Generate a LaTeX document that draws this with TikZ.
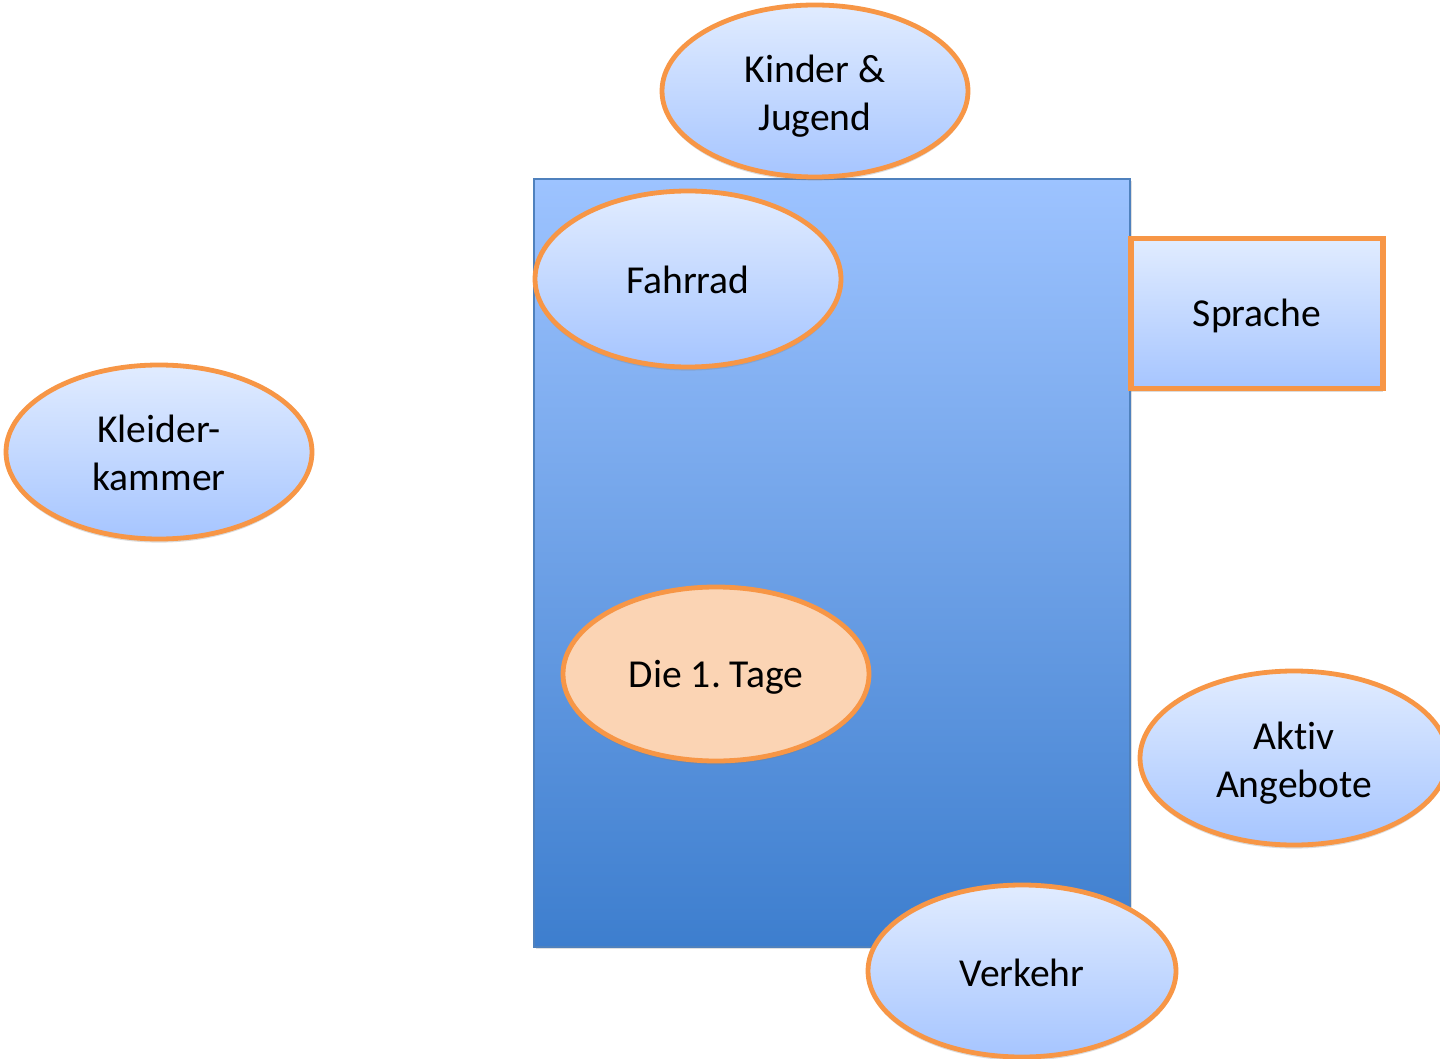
\documentclass[tikz,border=0pt]{standalone}
\usepackage{fontspec}
\setmainfont{Carlito}[Ligatures=NoCommon]
\frenchspacing
\usetikzlibrary{shapes.geometric,shadows}
\definecolor{orangeline}{HTML}{F79646}
\definecolor{elltop}{HTML}{E1ECFF}
\definecolor{ellbot}{HTML}{A6C5FF}
\definecolor{recttop}{HTML}{9DC3FF}
\definecolor{rectbot}{HTML}{3D7ECE}
\definecolor{rectline}{HTML}{4F81BD}
\definecolor{peach}{HTML}{FBD4B4}
\tikzset{
  lbl/.style={font=\fontsize{19.8}{24}\selectfont, text=black, align=center, inner sep=0pt},
  softshadow/.style={drop shadow={opacity=0.28, shadow xshift=0pt, shadow yshift=-1.8pt}},
  bubble/.style={ellipse, draw=orangeline, line width=2.4pt, inner sep=0pt,
    minimum width=153pt, minimum height=86pt, top color=elltop, bottom color=ellbot, softshadow},
  peachbubble/.style={bubble, top color=peach, bottom color=peach, fill=peach},
  tab/.style={rectangle, draw=orangeline, line width=2.6pt, inner sep=0pt,
    minimum width=126pt, minimum height=75pt, top color=elltop, bottom color=ellbot, softshadow},
  panel/.style={rectangle, draw=rectline, line width=0.6pt, inner sep=0pt,
    minimum width=298pt, minimum height=384pt, top color=recttop, bottom color=rectbot,
    drop shadow={opacity=0.25, shadow xshift=1pt, shadow yshift=-1.2pt}}
}
\begin{document}
\begin{tikzpicture}[x=0.5pt,y=-0.5pt]
\clip (0,0) rectangle (1440,1059);
\fill[white] (0,0) rectangle (1440,1059);
\node[panel] (main) at (832,563) {};
\node[bubble] (kinder) at (815,91) {};
\node[lbl, yshift=-2.6pt] (kindertxt) at (kinder) {Kinder \&\\Jugend};
\node[bubble, minimum height=88pt] (fahrrad) at (688,279) {};
\node[lbl, yshift=-0.6pt] (fahrradtxt) at (fahrrad) {Fahrrad};
\node[tab] (sprache) at (1257,313.5) {};
\node[lbl, yshift=-1.4pt] (sprachetxt) at (sprache) {Sprache};
\node[bubble, minimum height=87pt] (kleider) at (159,452) {};
\node[lbl, yshift=-0.6pt] (kleidertxt) at (kleider) {Kleider-\\kammer};
\node[peachbubble, minimum height=87pt] (tage) at (716,674) {};
\node[lbl, yshift=-1.4pt] (tagetxt) at (tage) {Die 1. Tage};
\node[bubble, minimum width=154pt, minimum height=87pt] (aktiv) at (1294,758) {};
\node[lbl, yshift=-2.6pt] (aktivtxt) at (aktiv) {Akt\kern0pt iv\\Angebote};
\node[bubble, minimum width=154pt] (verkehr) at (1022,971) {};
\node[lbl, yshift=-1pt] (verkehrtxt) at (verkehr) {Verkehr};
\end{tikzpicture}
\end{document}
